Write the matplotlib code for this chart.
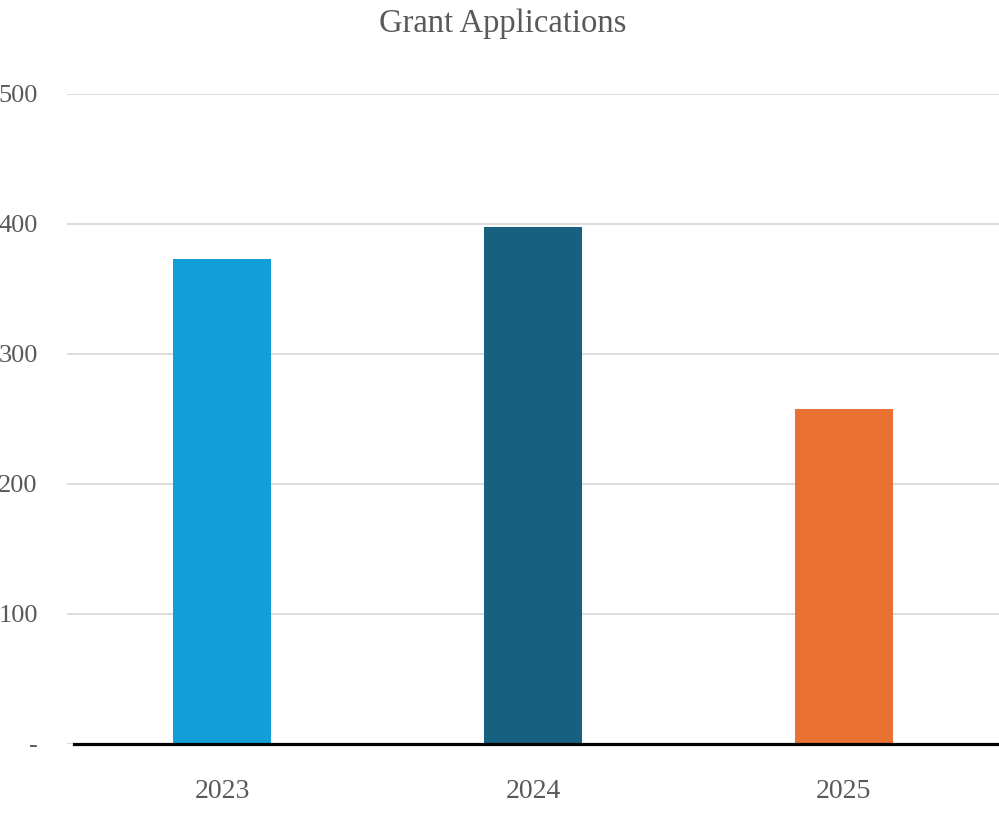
import matplotlib
matplotlib.use("Agg")
import matplotlib.pyplot as plt

categories = ["2023", "2024", "2025"]
values = [373, 398, 258]
colors = ["#129ED7", "#16617F", "#E97233"]
yticks = [0, 100, 200, 300, 400, 500]
ytick_labels = ["-", "100", "200", "300", "400", "500"]

plt.rcParams['font.family'] = ['Liberation Serif', 'DejaVu Serif']
text_color = "#595959"

fig = plt.figure(figsize=(9.99, 8.13), dpi=100)
ax = fig.add_axes([0.067, 0.0849, 0.933, 0.7995])

x = list(range(len(categories)))
ax.bar(x, values, width=0.315, color=colors, zorder=3)

ax.set_xlim(-0.5, 2.5)
ax.set_ylim(0, 500)
ax.set_yticks(yticks)
ax.set_yticklabels(ytick_labels)
ax.set_xticks(x)
ax.set_xticklabels(categories)

ax.grid(axis='y', color="#D9D9D9", linewidth=1.3, zorder=0)
ax.set_axisbelow(True)
for s in ax.spines.values():
    s.set_visible(False)
ax.axhline(0, xmin=7/933, xmax=1, color="black", linewidth=2.3, zorder=4, clip_on=False)

ax.tick_params(axis='y', length=0, pad=21, labelsize=19, labelcolor=text_color)
ax.tick_params(axis='x', length=0, pad=25, labelsize=20, labelcolor=text_color)

fig.text(0.503, 1 - 24/813, "Grant Applications", ha='center', va='center',
         fontsize=23.5, color=text_color)

fig.savefig("out.png", dpi=100)
